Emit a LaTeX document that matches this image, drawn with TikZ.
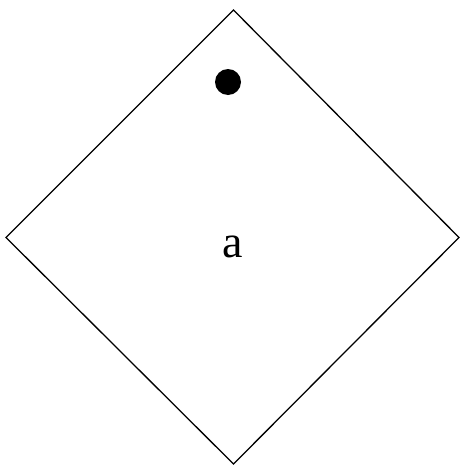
\documentclass[tikz,border=0pt]{standalone}
\usepackage{fontspec}
\setmainfont{Liberation Serif}
\begin{document}
\begin{tikzpicture}[x=1pt,y=-1pt,
  shapeline/.style={draw=black,line width=1.3pt,line join=miter},
  dotstyle/.style={circle,fill=black,inner sep=0pt,minimum size=26pt},
  lbl/.style={inner sep=0pt,font=\fontsize{46}{50}\selectfont}]
\useasboundingbox (0,0) rectangle (460,466);
\coordinate (t) at (233.5,10);
\coordinate (r) at (459,237.5);
\coordinate (b) at (233.5,464);
\coordinate (l) at (6,237.5);
\draw[shapeline] (t) -- (r) -- (b) -- (l) -- cycle;
\node[dotstyle] (dot) at (228,82) {};
\node[lbl,anchor=base] (a) at (233,257) {a};
\end{tikzpicture}
\end{document}
